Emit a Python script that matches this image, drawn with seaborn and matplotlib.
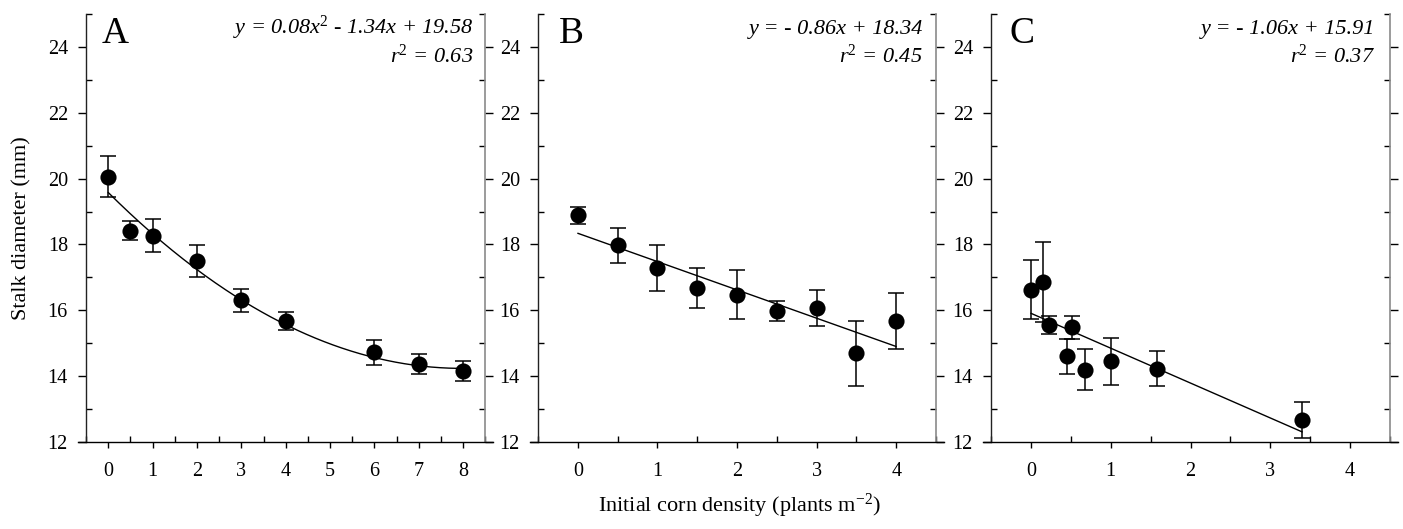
import numpy as np
import pandas as pd
import seaborn as sns
import matplotlib
matplotlib.use("Agg")
import matplotlib.pyplot as plt
from matplotlib.ticker import MultipleLocator

sns.set_style("white")
plt.rcParams['font.family'] = ['Liberation Serif', 'DejaVu Serif']
plt.rcParams['mathtext.fontset'] = 'custom'
plt.rcParams['mathtext.it'] = 'Liberation Serif:italic'
plt.rcParams['mathtext.rm'] = 'Liberation Serif'
plt.rcParams['mathtext.default'] = 'it'
plt.rcParams['text.color'] = 'black'
plt.rcParams['axes.labelcolor'] = 'black'
plt.rcParams['xtick.color'] = 'black'
plt.rcParams['ytick.color'] = 'black'

# ---- data ----
density_a = [0, 0.5, 1, 2, 3, 4, 6, 7, 8]
diam_a = [20.06, 18.42, 18.27, 17.49, 16.30, 15.67, 14.72, 14.36, 14.15]
err_a = [0.63, 0.29, 0.49, 0.48, 0.35, 0.27, 0.37, 0.30, 0.30]

density_b = [0, 0.5, 1, 1.5, 2, 2.5, 3, 3.5, 4]
diam_b = [18.88, 17.97, 17.28, 16.69, 16.48, 15.97, 16.07, 14.69, 15.68]
err_b = [0.27, 0.52, 0.69, 0.61, 0.73, 0.30, 0.56, 0.98, 0.85]

density_c = [0, 0.146, 0.23, 0.447, 0.509, 0.68, 1.0, 1.574, 3.40]
diam_c = [16.63, 16.86, 15.56, 14.60, 15.48, 14.19, 14.45, 14.23, 12.67]
err_c = [0.90, 1.22, 0.27, 0.52, 0.34, 0.62, 0.71, 0.52, 0.55]

# fitted curves (polynomial coefficients, highest power first) and ranges
fit_a = [0.084, -1.34, 19.58]
fit_b = [-0.86, 18.34]
fit_c = [-1.06, 15.91]
fit_range_a = [0, 8]
fit_range_b = [0, 4]
fit_range_c = [0, 3.4]

letters = ["A", "B", "C"]
eq_lines = [r"y = 0.08x$^2$ - 1.34x + 19.58", r"y = - 0.86x + 18.34", r"y = - 1.06x + 15.91"]
r2_lines = [r"r$^2$ = 0.63", r"r$^2$ = 0.45", r"r$^2$ = 0.37"]

xticks_a = [0, 1, 2, 3, 4, 5, 6, 7, 8]
xticks_bc = [0, 1, 2, 3, 4]
yticks = [12, 14, 16, 18, 20, 22, 24]

W, H = 1403, 529
fig = plt.figure(figsize=(W / 100, H / 100), dpi=100)

panels = [
    dict(x=density_a, y=diam_a, e=err_a, fit=fit_a, fr=fit_range_a,
         rect=(78, 14, 415, 428), xlim=(-0.68, 8.67), spl=-0.5, spr=8.5, xt=xticks_a),
    dict(x=density_b, y=diam_b, e=err_b, fit=fit_b, fr=fit_range_b,
         rect=(530, 14, 414, 428), xlim=(-0.6, 4.6), spl=-0.5, spr=4.5, xt=xticks_bc),
    dict(x=density_c, y=diam_c, e=err_c, fit=fit_c, fr=fit_range_c,
         rect=(983, 14, 415, 428), xlim=(-0.6, 4.6), spl=-0.5, spr=4.5, xt=xticks_bc),
]
letter_x = [0.058, 0.070, 0.063]
eq_x = [0.952, 0.949, 0.945]

for i, p in enumerate(panels):
    l, t, w, h = p['rect']
    ax = fig.add_axes([l / W, 1 - (t + h) / H, w / W, h / H])
    df = pd.DataFrame({'x': p['x'], 'y': p['y']})
    xs = np.linspace(p['fr'][0], p['fr'][1], 200)
    ys = np.polyval(p['fit'], xs)
    sns.lineplot(x=xs, y=ys, ax=ax, color='black', lw=1.0, legend=False)
    ax.errorbar(p['x'], p['y'], yerr=p['e'], fmt='none', ecolor='black',
                elinewidth=1.1, capsize=5.5, capthick=1.1, zorder=3)
    sns.scatterplot(data=df, x='x', y='y', ax=ax, s=135, color='black',
                    edgecolor='black', linewidth=0, zorder=4, legend=False)
    ax.set_xlim(*p['xlim'])
    ax.set_ylim(12, 25)
    ax.set_xlabel("")
    ax.set_ylabel("")
    ax.set_xticks(p['xt'])
    ax.xaxis.set_minor_locator(MultipleLocator(0.5))
    ax.set_yticks(yticks)
    ax.yaxis.set_minor_locator(MultipleLocator(1))
    ax.spines['top'].set_visible(False)
    ax.spines['left'].set_position(('data', p['spl']))
    ax.spines['right'].set_position(('data', p['spr']))
    ax.spines['left'].set_color('#222222')
    ax.spines['left'].set_linewidth(1.0)
    ax.spines['right'].set_color('#8a8a8a')
    ax.spines['right'].set_linewidth(1.2)
    ax.spines['bottom'].set_color('black')
    ax.spines['bottom'].set_linewidth(1.0)
    ax.tick_params(axis='y', which='major', direction='out', length=6, width=1,
                   left=True, right=True, labelleft=True, labelright=False,
                   labelsize=14.5, pad=7, colors='black')
    ax.tick_params(axis='y', which='minor', direction='in', length=4.5, width=1,
                   left=True, right=True, colors='black')
    ax.tick_params(axis='x', which='major', direction='out', length=4.5, width=1,
                   bottom=True, top=False, labelsize=14.5, pad=10, colors='black')
    ax.tick_params(axis='x', which='minor', direction='in', length=4, width=1,
                   bottom=True, top=False, colors='black')
    ax.grid(False)
    ax.patch.set_alpha(0)
    ax.text(letter_x[i], 0.932, letters[i], transform=ax.transAxes,
            fontsize=27, ha='left', va='baseline')
    ax.text(eq_x[i], 0.953, eq_lines[i], transform=ax.transAxes,
            fontsize=16, ha='right', va='baseline', style='italic')
    ax.text(eq_x[i], 0.886, r2_lines[i], transform=ax.transAxes,
            fontsize=16, ha='right', va='baseline', style='italic')

fig.text(22 / W, 1 - 228 / H, "Stalk diameter (mm)", rotation=90,
         ha='center', va='center', fontsize=16)
fig.text(739 / W, 1 - 506 / H, r"Initial corn density (plants m$^{\mathrm{-2}}$)",
         ha='center', va='center', fontsize=16)

fig.savefig("out.png", dpi=100)
